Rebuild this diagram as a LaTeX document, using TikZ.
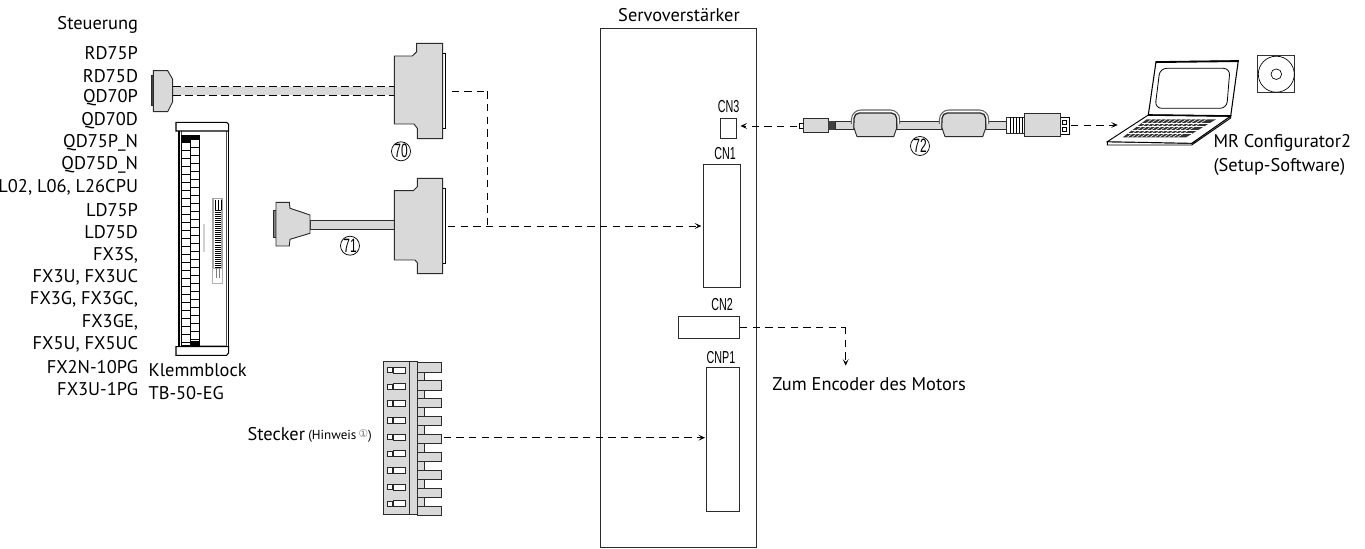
\documentclass[tikz,border=0pt]{standalone}
\usepackage{fontspec}
\setmainfont{PT Sans}
\newfontfamily\cnfont[FakeStretch=0.62]{Liberation Sans}
\newfontfamily\symfont{DejaVu Sans}
\usepackage{tikz}
\usetikzlibrary{positioning,arrows.meta,calc}

\definecolor{partgrey}{HTML}{D9D9D9}
\definecolor{edgegrey}{HTML}{2B2B2B}
\def\px{0.75pt}

\begin{document}
\begin{tikzpicture}[
    x=0.75pt, y=-0.75pt,
    txt/.style={inner sep=0pt, font=\fontsize{13.8}{16}\selectfont},
    ctrl/.style={txt, anchor=east},
    portbox/.style={draw=edgegrey, line width=0.6pt, inner sep=0pt, fill=white},
    portlabel/.style={inner sep=0pt, font=\fontsize{13}{15}\cnfont},
    numcircle/.style={draw, circle, line width=0.55pt, inner sep=0pt, minimum size=19*\px, font=\fontsize{14.5}{16}\cnfont},
    part/.style={draw=edgegrey, line width=0.7pt, fill=partgrey},
    thinpart/.style={draw=black, line width=0.55pt, fill=white},
    arrow/.style={-{Stealth[length=5pt, width=4.5pt, inset=2.4pt]}, line width=0.55pt, dash pattern=on 5.5pt off 4pt, shorten >=1pt},
    plainline/.style={line width=0.55pt, dash pattern=on 5.5pt off 4pt},
]
\useasboundingbox (0,0) rectangle (1365,549);

% Steuerung list
\node[ctrl] (ctrltitle) at (138.3,25) {Steuerung};
\foreach \name [count=\i from 0] in {RD75P,RD75D,QD70P,QD70D,QD75P\_N,QD75D\_N,{L02, L06, L26CPU},LD75P,LD75D,{FX3S,},{FX3U, FX3UC},{FX3G, FX3GC,},{FX3GE,},{FX5U, FX5UC},FX2N-10PG,FX3U-1PG}
    \node[ctrl] (ctrl\i) at (138.3,{53.3+22.4*\i}) {\name};

% Servoverstaerker
\node[portbox, minimum width=156.7*\px, minimum height=519*\px] (servo) at (678.4,287.5) {};
\node[txt] (servotitle) at (679,14.7) {Servoverstärker};
\node[portbox, minimum width=15.7*\px, minimum height=20*\px] (cn3) at (728.2,128) {};
\node[portbox, minimum width=37.3*\px, minimum height=123*\px] (cn1) at (721.7,225.5) {};
\node[portbox, minimum width=60.8*\px, minimum height=22*\px] (cn2) at (709.1,327) {};
\node[portbox, minimum width=32.3*\px, minimum height=144*\px] (cnp1) at (722.9,439) {};
\node[portlabel] (cn3label) at (728.5,107) {CN3};
\node[portlabel] (cn1label) at (725,154) {CN1};
\node[portlabel] (cn2label) at (722,305) {CN2};
\node[portlabel] (cnp1label) at (721,358) {CNP1};

% cable 70
\fill[partgrey] (172.7,86.7) rectangle (394.3,95.3);
\draw[line width=0.6pt, dash pattern=on 6pt off 3pt] (172.7,86.7) -- (394.3,86.7) (172.7,95.3) -- (394.3,95.3);
\draw[part, fill=black!70] (151,75.7) rectangle (153.3,105);
\draw[part] (153.3,70.7) -- (167.7,70.7) -- (172.7,79.3) -- (172.7,101.7) -- (167.7,111.7) -- (153.3,111.7) -- cycle;
\draw[thinpart] (442.7,53.3) -- (445.7,53.3) -- (445.7,128.3) -- (442.7,128.3);
\draw[part] (416.7,43.3) -- (442.7,43.3) -- (442.7,138.7) -- (417.3,138.7) -- (417.3,128.3) -- (414,124) -- (394.3,124) -- (394.3,56) -- (412.3,56) -- (416.7,51.7) -- cycle;
\node[numcircle] (num70) at (401,151.3) {70};
\coordinate (out70) at (451.7,91.3);
\coordinate (bend70) at (487,91.3);

% cable 71
\draw[part] (310,220) rectangle (394.3,229);
\draw[part, fill=partgrey!60!black] (273.3,210.7) rectangle (276,237.3);
\draw[part] (276,202.3) -- (289.3,202.3) -- (290,208.3) -- (310,215) -- (310,233.3) -- (290,239.3) -- (289.3,246) -- (276,246) -- cycle;
\draw[thinpart] (442.7,188.3) -- (445.7,188.3) -- (445.7,263.3) -- (442.7,263.3);
\draw[part] (417.3,178.3) -- (442.7,178.3) -- (442.7,273.7) -- (417.3,273.7) -- (417.3,262.7) -- (415,260) -- (394.3,260) -- (394.3,190.7) -- (413.3,190.7) -- (417.3,186.7) -- cycle;
\node[numcircle] (num71) at (350,245.7) {71};
\coordinate (out71) at (448,226);

% Klemmblock
\draw[thinpart, line width=0.8pt] (179,130) rectangle (228.3,347);
\draw[line width=0.5pt, draw=black!70] (181,131) -- (181,346) -- (226.7,346) -- (226.7,131);
\draw[line width=1pt, draw=black!35] (200,345.3) -- (226,345.3);
\draw[thinpart, line width=0.8pt] (176,122.3) -- (226.5,122.3) -- (228.7,124.3) -- (228.7,131) -- (176,131) -- cycle;
\draw[thinpart, line width=0.8pt] (176,346.7) -- (228.7,346.7) -- (228.7,353) -- (226.5,355.3) -- (176,355.3) -- cycle;
\draw[thinpart] (181.3,135) rectangle (190.3,345.7);
\draw[thinpart] (190.3,135) rectangle (199.7,345.7);
\fill (181.3,135) rectangle (190.3,142.7);
\fill (190.3,135) rectangle (199.7,139);
\fill (190.3,341) rectangle (199.7,345.7);
\foreach \k in {0,...,25} {
    \draw[line width=0.55pt] (181.3,{142.7+8*\k}) -- (190.3,{142.7+8*\k});
    \draw[line width=0.55pt] (190.3,{139+8*\k}) -- (199.7,{139+8*\k});
}
\draw[line width=1.2pt, draw=black!18] (203.7,224) -- (203.7,252.3);
\draw[draw=black!35, line width=1.3pt] (213.2,198.5) rectangle (221.8,268.5);
\draw[draw=black!30, line width=0.5pt] (212.5,268.5) rectangle (222.5,283.3);
\draw[line width=0.5pt] (215,200) -- (215,210) (218,200) -- (218,210) (221,200) -- (221,210);
\foreach \k in {0,...,28}
    \draw[line width=0.5pt] (214.8,{210+2.05*\k}) -- (220.8,{210+2.05*\k});
\draw[line width=0.4pt, draw=black!50] (216,268.5) -- (216,278) (219,268.5) -- (219,278);
\node[txt, anchor=west] (klemm) at (148.3,370) {Klemmblock};
\node[txt, anchor=west] (klemmtype) at (148.3,393) {TB-50-EG};

% Stecker
\foreach \k in {0,...,8} {
    \ifnum\k<8
        \draw[part, line width=0.55pt] (417.3,{372+17.9*\k}) rectangle (424.3,{380.6+17.9*\k});
    \fi
    \draw[part, line width=0.55pt] (417.3,{362.7+17.9*\k}) rectangle (441.3,{372+17.9*\k});
}
\draw[part] (383.7,361.7) rectangle (409.3,514.7);
\draw[part] (409.3,361.7) rectangle (417.3,514.7);
\foreach \k in {0,...,8} {
    \draw[line width=0.45pt, draw=black!85, fill=white] (387.3,{367.3+16.7*\k}) rectangle (392,{372.7+16.7*\k});
    \draw[line width=0.45pt, draw=black!85, fill=white] (393.7,{367+16.7*\k}) rectangle (405,{373+16.7*\k});
}
\node[txt, anchor=west] (stecker) at (247.3,434.3) {Stecker};
\node[inner sep=0pt, anchor=west, font=\fontsize{9.8}{11}\selectfont] (hinweis) at (308,435.5) {(Hinweis\,{\symfont\fontsize{8}{9}\selectfont\color{black!55}\raisebox{1.5pt}{①}})};
\coordinate (outplug) at (443.5,437.7);

% cable 72
\draw[part, line width=0.6pt] (835,121) rectangle (1006,129.3);
\draw[line width=0.5pt, fill=white] (799,123.5) rectangle (803.3,128);
\draw[part] (803.3,118.3) rectangle (828.3,132.3);
\fill[black!75] (828.3,120.8) rectangle (834.5,130.5);
\foreach \xa/\xb in {854/896.7,942/985.7} {
    \draw[thinpart, line width=0.8pt, draw=black!60, rounded corners=7pt] (\xa-2.5,124) -- (\xa-2.5,110) -- (\xb+3,110) -- (\xb+3,124);
    \draw[part, line width=1pt, rounded corners=4pt] (\xa,129) -- (\xa,113) -- (\xb,113) -- (\xb,129);
    \draw[part] (\xa,128) -- (\xa+3,136.7) -- (\xb-3,136.7) -- (\xb,128) -- (\xb,122) -- (\xa,122) -- cycle;
    \fill[partgrey] (\xa+0.5,120) rectangle (\xb-0.5,129.5);
}
\draw[part, fill=white] (1006,117.3) rectangle (1024,133.3);
\foreach \xk in {1010,1013,1016,1019,1022}
    \draw[line width=0.7pt] (\xk,117.3) -- (\xk,133.3);
\draw[thinpart] (1060.7,117) rectangle (1069.7,134);
\draw[line width=0.5pt] (1062.5,120) rectangle (1066,124.5) (1062.5,127) rectangle (1066,131.5);
\draw[part] (1024,113.3) rectangle (1060.7,136.7);
\node[numcircle] (num72) at (920,146) {72};
\coordinate (left72) at (797,126);
\coordinate (right72) at (1071,125);
\coordinate (laptopin) at (1119,125);

% laptop
\draw[thinpart, line width=0.7pt] (1107.3,141.7) -- (1107.3,145) -- (1191.7,145) -- (1230.7,118) -- (1230.7,116) -- (1191.7,143.3) -- cycle;
\draw[thinpart, line width=0.7pt] (1148.3,115) -- (1230.7,116) -- (1191.7,143.3) -- (1107.3,141.7) -- cycle;
\draw[thinpart, line width=0.8pt] (1156,61.7) -- (1238.3,60.7) -- (1230.7,116) -- (1148.3,115) -- cycle;
\draw[line width=1.2pt] (1156,62.2) -- (1238.3,61.2);
\draw[line width=1.2pt] (1148.3,115) -- (1230.7,116);
\draw[line width=0.6pt, rounded corners=5pt] (1160,68.3) -- (1230,68.3) -- (1226.7,108.3) -- (1155,108.3) -- cycle;
\coordinate (keyA) at (1146.7,119.3);
\coordinate (keyB) at (1216,119.3);
\coordinate (keyC) at (1186,137.3);
\coordinate (keyD) at (1122.7,137.3);
\fill[black!80] (keyA) -- (keyB) -- (keyC) -- (keyD) -- cycle;
\foreach \t in {0.2,0.4,0.6,0.8}
    \draw[white, line width=0.45pt] ($(keyA)!\t!(keyD)$) -- ($(keyB)!\t!(keyC)$);
\foreach \t in {0.071,0.143,...,0.93}
    \draw[white, line width=0.4pt] ($(keyA)!\t!(keyB)$) -- ($(keyD)!\t!(keyC)$);
\node[txt, anchor=west] (mrconf) at (1213.3,143) {MR Configurator2};
\node[txt, anchor=west] (setup) at (1213.3,167) {(Setup-Software)};

% CD
\node[draw=black!80, line width=0.6pt, minimum size=37*\px, inner sep=0pt] (cdbox) at (1276.3,74.2) {};
\node[draw, circle, line width=0.5pt, minimum size=36*\px, inner sep=0pt] (cdouter) at (cdbox.center) {};
\node[draw, circle, line width=0.5pt, minimum size=10.6*\px, inner sep=0pt] (cdinner) at (cdbox.center) {};

% Encoder
\node[txt, anchor=west] (encoder) at (772,384) {Zum Encoder des Motors};
\coordinate (bend2) at (845.7,327);
\coordinate (encodertip) at (845.7,367);

% connectors
\draw[plainline] (out70) -- (bend70);
\draw[plainline] (bend70) -- (bend70 |- out71);
\draw[arrow] (out71) -- (out71 -| cn1.west);
\draw[arrow] (outplug) -- (outplug -| cnp1.west);
\draw[arrow] (left72) -- ([xshift=2pt]cn3.east |- left72);
\draw[arrow] (right72) -- (laptopin);
\draw[plainline] (cn2.east) -- (bend2);
\draw[arrow] (bend2) -- (encodertip);
\end{tikzpicture}
\end{document}
